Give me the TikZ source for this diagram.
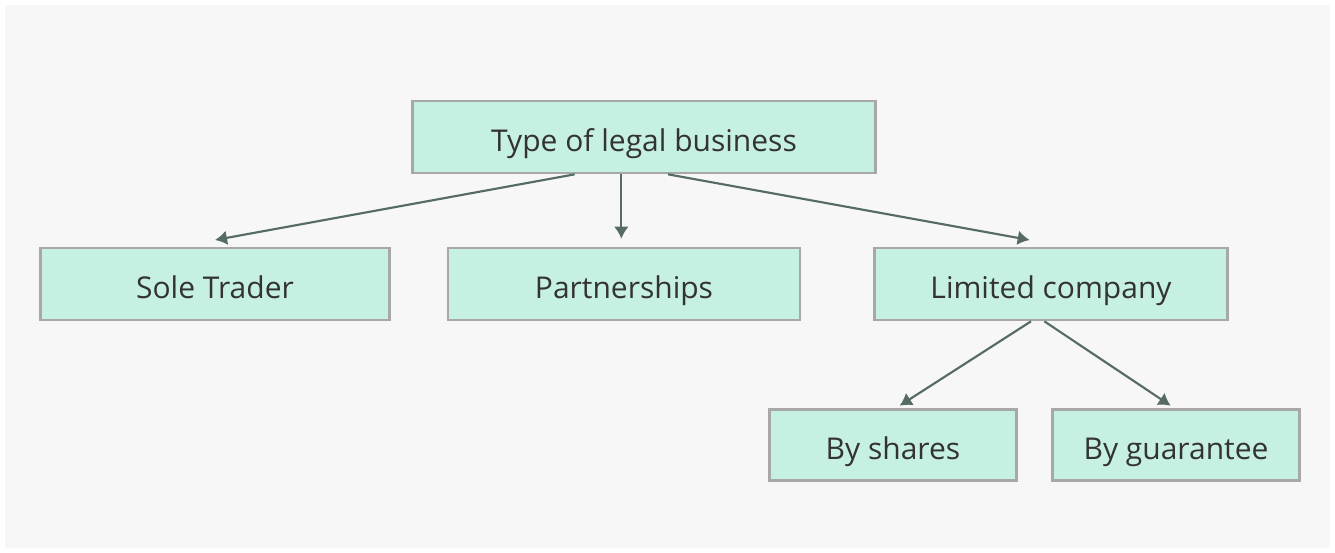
\documentclass[tikz,border=0pt]{standalone}
\usepackage{fontspec}
\setmainfont{Open Sans}
\usetikzlibrary{arrows.meta}
\definecolor{mint}{HTML}{C6F0E1}
\definecolor{boxline}{HTML}{A8A8A8}
\definecolor{arrowgray}{HTML}{556B63}
\tikzset{x=0.75pt, y=-0.75pt,
    typebox/.style={draw=boxline, line width=2pt, fill=mint,
        text=black!80, font=\fontsize{22.5}{26}\selectfont,
        text height=21pt, text depth=0pt,
        minimum height=54pt, inner sep=0pt},
    branch/.style={draw=arrowgray, line width=1.6pt,
        -{Latex[length=9pt,width=11pt]}},
    }

\begin{document}
\begin{tikzpicture}
	\useasboundingbox (0,0) rectangle (1335,553);
	\fill[black!3] (5,5) rectangle (1330,548);
	% first level
	\node[typebox, minimum width=347pt] (legal) at (644,137) {Type of legal business};
	% second level
	\node[typebox, minimum width=262pt] (sole) at (215,284) {Sole Trader};
	\node[typebox, minimum width=264pt] (partner) at (624,284) {Partnerships};
	\node[typebox, minimum width=265pt] (limited) at (1051,284) {Limited company};
	% third level
	\node[typebox, minimum width=185pt, minimum height=53pt] (shares) at (893,445) {By shares};
	\node[typebox, minimum width=185pt, minimum height=53pt] (guarantee) at (1176,445) {By guarantee};
	% arrows
	\draw[branch] ([xshift=-52pt]legal.south) -- ([yshift=5pt]sole.north);
	\draw[branch] ([xshift=-17pt]legal.south) -- ([xshift=-2pt,yshift=6pt]partner.north);
	\draw[branch] ([xshift=18pt]legal.south) -- ([xshift=-16pt,yshift=5pt]limited.north);
	\draw[branch] ([xshift=-15pt]limited.south) -- ([xshift=5pt,yshift=2pt]shares.north);
	\draw[branch] ([xshift=-5pt]limited.south) -- ([xshift=-4pt,yshift=2pt]guarantee.north);
\end{tikzpicture}
\end{document}
